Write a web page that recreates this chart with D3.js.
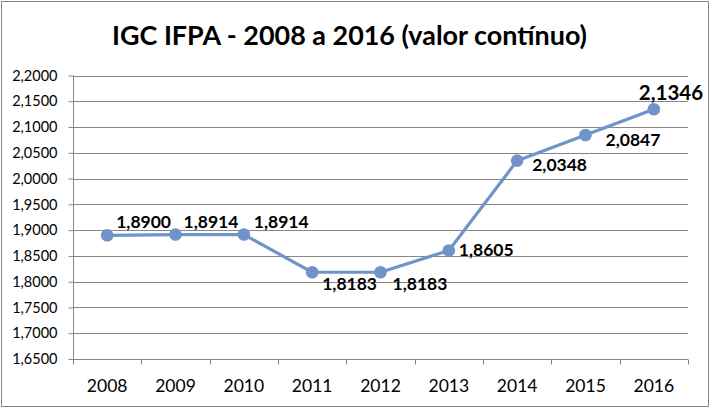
<!DOCTYPE html>
<html><head><meta charset="utf-8">
<script src="https://cdn.jsdelivr.net/npm/d3@7"></script>
<style>body{margin:0;background:#fff}svg{display:block}</style>
</head><body>
<svg id="c" width="710" height="408"></svg>
<script>
const years = ["2008","2009","2010","2011","2012","2013","2014","2015","2016"];
const values = [1.8900,1.8914,1.8914,1.8183,1.8183,1.8605,2.0348,2.0847,2.1346];
const labels = ["1,8900","1,8914","1,8914","1,8183","1,8183","1,8605","2,0348","2,0847","2,1346"];
const yTicks = [1.65,1.70,1.75,1.80,1.85,1.90,1.95,2.00,2.05,2.10,2.15,2.20];
const title = "IGC IFPA - 2008 a 2016 (valor contínuo)";
// label offsets (dx, dy) relative to the point
const labelOffsets = [[9,-7],[8,-7],[10,-7],[10,18],[12,18],[10,6],[15,10],[20,11],[-15,-9]];

const svg = d3.select("#c");
const W=710,H=408;
const m={l:73,r:688,t:75.5,b:359};
const font="Lato, 'Open Sans', sans-serif";
const gray="#878787";
const blue="#7093c9";

svg.append("rect").attr("x",1.5).attr("y",1.5).attr("width",W-3).attr("height",H-3)
  .attr("fill","#fff").attr("stroke",gray).attr("stroke-width",1);

const x=d3.scaleBand().domain(years).range([m.l,m.r]);
const y=d3.scaleLinear().domain([1.65,2.2]).range([m.b,m.t]);

// gridlines
svg.append("g").selectAll("line").data(yTicks).join("line")
  .attr("x1",m.l).attr("x2",m.r)
  .attr("y1",d=>Math.round(y(d))+0.5).attr("y2",d=>Math.round(y(d))+0.5)
  .attr("stroke",gray).attr("stroke-width",1);

// y axis
const fmt=d=>d.toFixed(4).replace(".",",");
const ya=svg.append("g").attr("transform",`translate(${m.l+0.5},0)`)
  .call(d3.axisLeft(y).tickValues(yTicks).tickFormat(fmt).tickSize(5).tickPadding(11));
ya.select(".domain").attr("stroke",gray).attr("d",`M0,${m.t}V${m.b}`);
ya.selectAll(".tick line").attr("stroke",gray);
ya.selectAll(".tick text").attr("font-family",font).attr("font-size",14.5).attr("fill","#000");

// x axis
const xa=svg.append("g").attr("transform",`translate(0,${Math.round(m.b)+0.5})`)
  .call(d3.axisBottom(x).tickSize(0).tickPadding(20));
xa.select(".domain").attr("stroke",gray).attr("d",`M${m.l},0H${m.r}`);
xa.selectAll(".tick text").attr("font-family",font).attr("font-size",17.5).attr("fill","#000");
// category boundary ticks
const bounds=years.map(d=>x(d)).concat([m.r]);
xa.append("g").selectAll("line").data(bounds).join("line")
  .attr("x1",d=>Math.round(d)+0.5).attr("x2",d=>Math.round(d)+0.5).attr("y1",0).attr("y2",5)
  .attr("stroke",gray);

const cx=d=>x(d)+x.bandwidth()/2;
const pts=years.map((d,i)=>({year:d,v:values[i],label:labels[i],off:labelOffsets[i]}));

svg.append("path").datum(pts)
  .attr("d",d3.line().x(d=>cx(d.year)).y(d=>y(d.v)))
  .attr("fill","none").attr("stroke",blue).attr("stroke-width",3.2).attr("stroke-linejoin","round");

svg.append("g").selectAll("circle").data(pts).join("circle")
  .attr("cx",d=>cx(d.year)).attr("cy",d=>y(d.v)).attr("r",6.3).attr("fill",blue);

svg.append("g").selectAll("text").data(pts).join("text")
  .attr("x",d=>cx(d.year)+d.off[0]).attr("y",d=>y(d.v)+d.off[1])
  .attr("text-anchor","start")
  .attr("font-family",font).attr("font-weight","bold")
  .attr("font-size",(d,i)=>i===8?20.5:17.5).attr("fill","#000")
  .text(d=>d.label);

svg.append("text").attr("x",349.5).attr("y",45).attr("text-anchor","middle")
  .attr("font-family",font).attr("font-weight","bold").attr("font-size",27.5)
  .attr("textLength",475).attr("lengthAdjust","spacingAndGlyphs")
  .attr("fill","#000").text(title);
</script>
</body></html>
